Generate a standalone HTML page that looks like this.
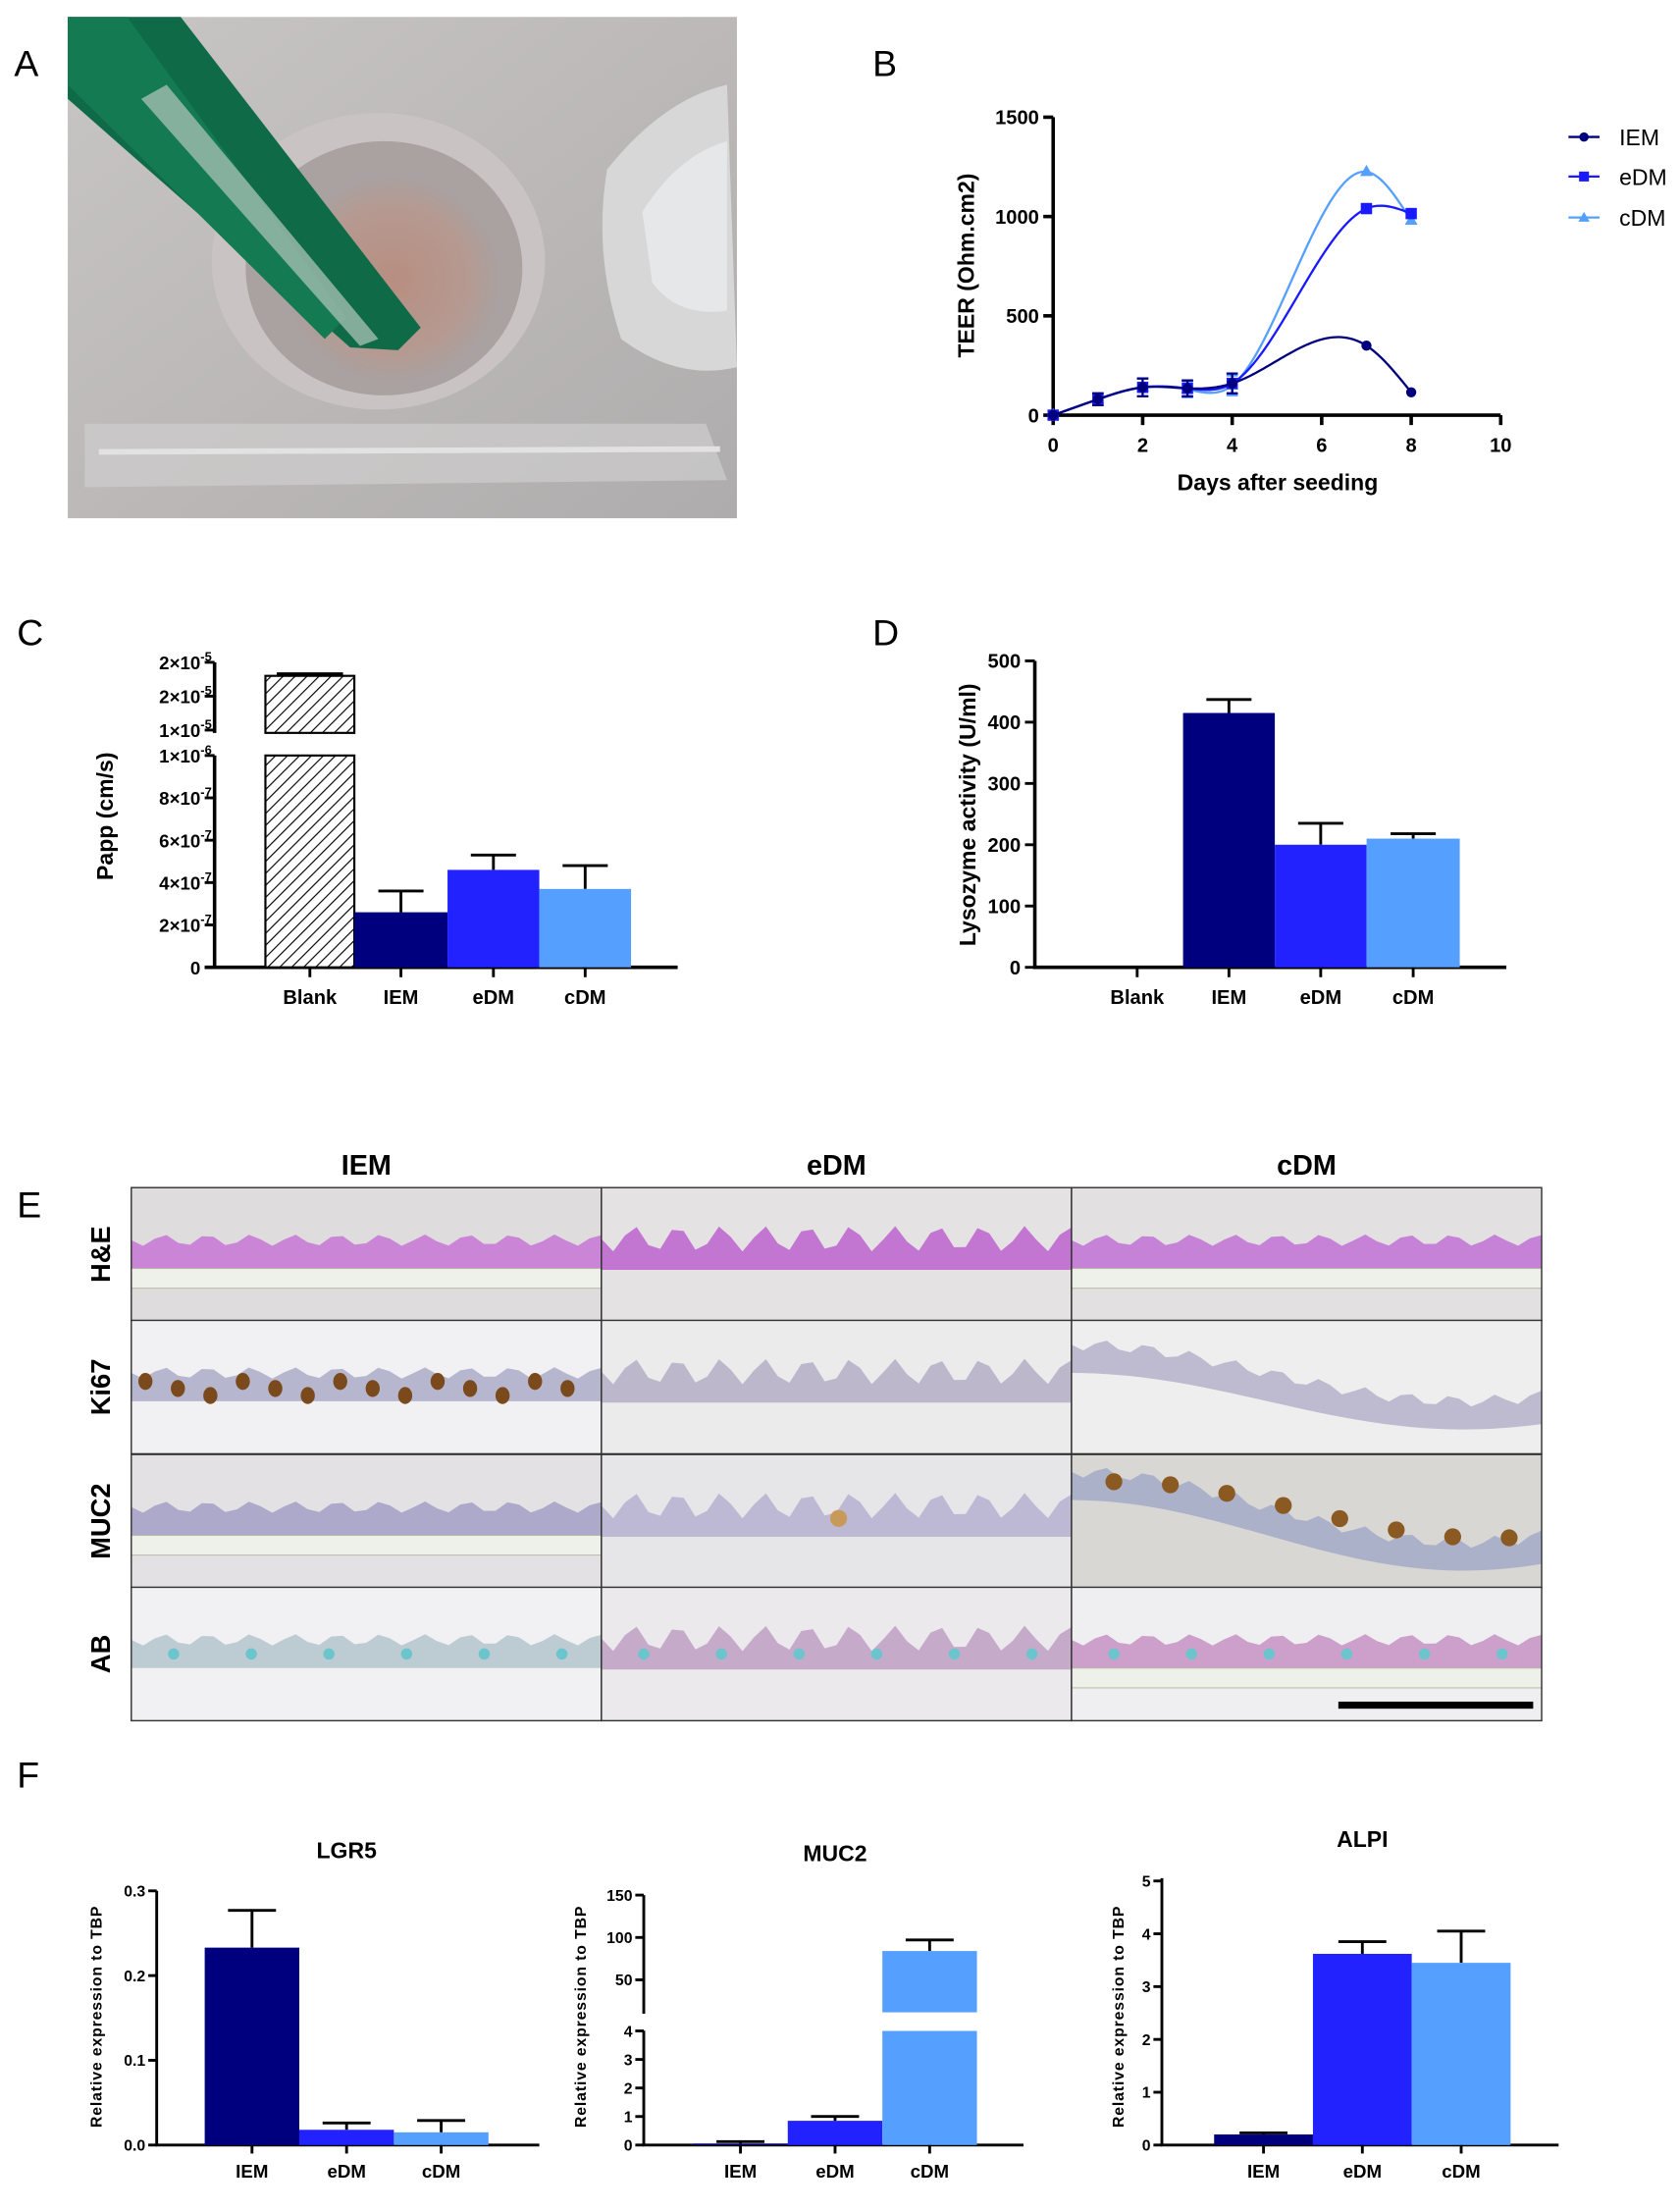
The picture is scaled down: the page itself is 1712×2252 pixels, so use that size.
<!DOCTYPE html>
<html><head><meta charset="utf-8"><style>
html,body{margin:0;padding:0;background:#fff;}
svg{display:block;font-family:"Liberation Sans",sans-serif;}
</style></head><body>
<svg id="fig" width="1712" height="2252" viewBox="0 0 1190 1565" preserveAspectRatio="none" xmlns="http://www.w3.org/2000/svg">
<defs>
<linearGradient id="photoBg" x1="0" y1="0" x2="1" y2="1"><stop offset="0" stop-color="#c8c6c5"/><stop offset="0.6" stop-color="#b9b6b5"/><stop offset="1" stop-color="#aeacad"/></linearGradient>
<radialGradient id="well" cx="0.5" cy="0.5" r="0.5"><stop offset="0" stop-color="#b88e80"/><stop offset="0.7" stop-color="#b59a92"/><stop offset="1" stop-color="#a8a2a2"/></radialGradient>
<pattern id="hatch" width="6" height="6" patternUnits="userSpaceOnUse" patternTransform="rotate(45)"><rect width="6" height="6" fill="#fff"/><line x1="0" y1="0" x2="0" y2="6" stroke="#000" stroke-width="1.6"/></pattern>
</defs>
<g font-size="26" fill="#000">
<text x="10" y="54">A</text>
<text x="618" y="54">B</text>
<text x="12" y="457">C</text>
<text x="618" y="457">D</text>
<text x="12" y="862">E</text>
<text x="12" y="1266">F</text>
</g>
<g>
<rect x="48" y="12" width="474" height="355" fill="url(#photoBg)"/>
<path d="M60 300 L500 300 L515 340 L60 345 Z" fill="#cfcdcd" opacity="0.7"/>
<path d="M70 320 L510 318" stroke="#e2e2e2" stroke-width="4"/>
<ellipse cx="268" cy="185" rx="118" ry="105" fill="#c9c4c3"/>
<ellipse cx="272" cy="190" rx="98" ry="90" fill="#a9a2a1"/>
<ellipse cx="278" cy="198" rx="78" ry="75" fill="url(#well)"/>
<path d="M430 120 Q470 70 515 60 L522 260 Q480 270 440 240 Q420 180 430 120 Z" fill="#d7d7d8"/>
<path d="M455 150 Q480 110 515 100 L515 220 Q480 225 462 200 Z" fill="#e6e7e8"/>
<path d="M48 12 L128 12 L298 232 L282 248 L248 246 L48 70 Z" fill="#0f6b47"/>
<path d="M48 12 L90 12 L245 225 L230 240 L48 60 Z" fill="#137a52"/>
<path d="M100 70 L118 60 L268 240 L255 245 Z" fill="#b6c8bf" opacity="0.7"/>
</g>
<g id="chartB"></g>
<g id="chartC"></g>
<g id="chartD"></g>
<g id="panelE"></g>
<g id="chartF1"></g>
<g id="chartF2"></g>
<g id="chartF3"></g>
</svg>
<script>
// ---------- data ----------
var teerDays = [0, 1, 2, 3, 4, 7, 8];
var teerIEM = [0, 80, 140, 135, 160, 350, 115];
var teerEDM = [0, 80, 140, 135, 160, 1040, 1015];
var teerCDM = [0, 80, 140, 130, 150, 1225, 980];
var teerErr = [10, 30, 45, 40, 50, 15, 25];
var teerXTicks = [0, 2, 4, 6, 8, 10];
var teerYTicks = [0, 500, 1000, 1500];
var barCats = ["Blank", "IEM", "eDM", "cDM"];
var pappVals = [1.8e-5, 2.6e-7, 4.6e-7, 3.7e-7];
var pappErrs = [0.03e-5, 1.0e-7, 0.7e-7, 1.1e-7];
var pappLowTicks = [0, 2e-7, 4e-7, 6e-7, 8e-7, 1e-6];
var pappLowLabels = ["0", "2×10", "4×10", "6×10", "8×10", "1×10"];
var pappLowExp = ["", "-7", "-7", "-7", "-7", "-6"];
var pappHighTicks = [1e-5, 1.5e-5, 2e-5];
var pappHighLabels = ["1×10", "2×10", "2×10"];
var lysoVals = [0, 415, 200, 210];
var lysoErrs = [0, 22, 35, 8];
var lysoTicks = [0, 100, 200, 300, 400, 500];
var geneCats = ["IEM", "eDM", "cDM"];
var lgr5Vals = [0.233, 0.018, 0.015];
var lgr5Errs = [0.044, 0.008, 0.014];
var lgr5Ticks = [0, 0.1, 0.2, 0.3];
var lgr5Labels = ["0.0", "0.1", "0.2", "0.3"];
var muc2Vals = [0.05, 0.85, 84];
var muc2Errs = [0.07, 0.15, 13];
var muc2LowTicks = [0, 1, 2, 3, 4];
var muc2HighTicks = [50, 100, 150];
var alpiVals = [0.2, 3.62, 3.45];
var alpiErrs = [0.03, 0.23, 0.6];
var alpiTicks = [0, 1, 2, 3, 4, 5];
var cols = ["#00007f", "#2222ff", "#55a0ff"];

var NS = "http://www.w3.org/2000/svg";
function mk(tag, attrs, parent) {
  var e = document.createElementNS(NS, tag);
  for (var k in attrs) e.setAttribute(k, attrs[k]);
  parent.appendChild(e);
  return e;
}
function txt(parent, x, y, s, size, anchor, weight, extra) {
  var t = mk("text", {x: x, y: y, "font-size": size, "text-anchor": anchor || "middle", "font-weight": weight || "bold", fill: "#000"}, parent);
  t.textContent = s;
  if (extra) for (var k in extra) t.setAttribute(k, extra[k]);
  return t;
}
function naturalSpline(xs, ys) {
  var n = xs.length, h = [], al = [0], l = [1], mu = [0], z = [0], c = new Array(n).fill(0), b = [], d = [];
  for (var i = 0; i < n - 1; i++) h.push(xs[i + 1] - xs[i]);
  for (i = 1; i < n - 1; i++) al[i] = 3 / h[i] * (ys[i + 1] - ys[i]) - 3 / h[i - 1] * (ys[i] - ys[i - 1]);
  for (i = 1; i < n - 1; i++) {
    l[i] = 2 * (xs[i + 1] - xs[i - 1]) - h[i - 1] * mu[i - 1];
    mu[i] = h[i] / l[i];
    z[i] = (al[i] - h[i - 1] * z[i - 1]) / l[i];
  }
  for (i = n - 2; i >= 0; i--) {
    c[i] = (i === n - 2 ? 0 : z[i] - mu[i] * c[i + 1]);
    if (i > 0 && i < n - 1) c[i] = z[i] - mu[i] * c[i + 1];
    b[i] = (ys[i + 1] - ys[i]) / h[i] - h[i] * (c[i + 1] + 2 * c[i]) / 3;
    d[i] = (c[i + 1] - c[i]) / (3 * h[i]);
  }
  return function (x) {
    var k = 0;
    while (k < n - 2 && x > xs[k + 1]) k++;
    var dx = x - xs[k];
    return ys[k] + b[k] * dx + c[k] * dx * dx + d[k] * dx * dx * dx;
  };
}

// ---------- Panel B ----------
(function () {
  var g = document.getElementById("chartB");
  function X(d) { return 746 + d * 31.7; }
  function Y(v) { return 294 - v * (211 / 1500); }
  var ax = mk("path", {d: "M746 83 L746 294 L1063 294", fill: "none", stroke: "#000", "stroke-width": 2.5}, g);
   
  teerXTicks.forEach(function (d) {
    var l = mk("line", {x1: X(d), x2: X(d), y1: 294, y2: 301, stroke: "#000", "stroke-width": 2.5}, g);
     
    var t = txt(g, X(d), 320, d, 14);
     
  });
  teerYTicks.forEach(function (v) {
    var l = mk("line", {x1: 739, x2: 746, y1: Y(v), y2: Y(v), stroke: "#000", "stroke-width": 2.5}, g);
     
    var t = txt(g, 736, Y(v) + 5, v, 14, "end");
     
  });
  var xt = txt(g, 905, 347, "Days after seeding", 16);
   
  var yt = txt(g, 690, 188, "TEER (Ohm.cm2)", 16, "middle", "bold", {transform: "rotate(-90 690 188)"});
   
  function curve(vals) {
    var f = naturalSpline(teerDays, vals), s = "";
    for (var k = 0; k <= 160; k++) {
      var d = k * 8 / 160;
      s += (k ? " L" : "M") + X(d).toFixed(2) + " " + Y(f(d)).toFixed(2);
    }
    return s;
  }
  var series = [[teerCDM, cols[2], "tri", "cdm"], [teerEDM, "#1a1aff", "sq", "edm"], [teerIEM, cols[0], "dot", "iem"]];
  series.forEach(function (s) {
    var ln = mk("path", {d: curve(s[0]), fill: "none", stroke: s[1], "stroke-width": 1.6}, g);
     
    teerDays.forEach(function (d, i) {
      var x = X(d), y = Y(s[0][i]), e = teerErr[i] * 211 / 1500;
      if (i > 0 && i < 5) {
        var eb = mk("path", {d: "M" + (x - 4) + " " + (y - e) + " H" + (x + 4) + " M" + x + " " + (y - e) + " V" + (y + e) + " M" + (x - 4) + " " + (y + e) + " H" + (x + 4), stroke: s[1], "stroke-width": 1.5, fill: "none"}, g);
         
      }
      var m;
      if (s[2] === "dot") m = mk("circle", {cx: x, cy: y, r: 3.6, fill: s[1]}, g);
      else if (s[2] === "sq") m = mk("rect", {x: x - 4, y: y - 4, width: 8, height: 8, fill: s[1]}, g);
      else m = mk("path", {d: "M" + x + " " + (y - 5) + " L" + (x + 4.5) + " " + (y + 3) + " L" + (x - 4.5) + " " + (y + 3) + " Z", fill: s[1]}, g);
       
    });
  });
  var leg = [["IEM", cols[0], "dot", 97], ["eDM", "#1a1aff", "sq", 125], ["cDM", cols[2], "tri", 154]];
  leg.forEach(function (l) {
    var gg = mk("g", {}, g);
     
    mk("line", {x1: 1111, x2: 1133, y1: l[3], y2: l[3], stroke: l[1], "stroke-width": 1.6}, gg);
    if (l[2] === "dot") mk("circle", {cx: 1122, cy: l[3], r: 3.3, fill: l[1]}, gg);
    else if (l[2] === "sq") mk("rect", {x: 1118.5, y: l[3] - 3.5, width: 7, height: 7, fill: l[1]}, gg);
    else mk("path", {d: "M1122 " + (l[3] - 4) + " l4 7 h-8 Z", fill: l[1]}, gg);
    txt(gg, 1147, l[3] + 6, l[0], 16, "start", "normal");
  });
})();

// ---------- Panel C ----------
(function () {
  var g = document.getElementById("chartC");
  function YL(v) { return 685 - v / 1e-6 * 150; }
  function YH(v) { return 517 - (v - 1e-5) / 1e-6 * 4.8; }
  var xs = [188, 251, 317, 382, 447];
  var ax = mk("path", {d: "M152 469 V519 M152 535 V685 M145 685 H480", fill: "none", stroke: "#000", "stroke-width": 2.5}, g);
   
  function lab(x, y, base, exp) {
    var t = txt(g, x, y, base, 13, "end");
    if (exp) { var sp = mk("tspan", {"font-size": 9, dy: -6}, t); sp.textContent = exp; }
     
  }
  pappLowTicks.forEach(function (v, i) {
    var l = mk("line", {x1: 145, x2: 152, y1: YL(v), y2: YL(v), stroke: "#000", "stroke-width": 2}, g);
     
    lab(pappLowExp[i] ? 150 : 142, YL(v) + 5, pappLowLabels[i], pappLowExp[i]);
  });
  pappHighTicks.forEach(function (v, i) {
    var l = mk("line", {x1: 145, x2: 152, y1: YH(v), y2: YH(v), stroke: "#000", "stroke-width": 2}, g);
     
    lab(150, YH(v) + 5, pappHighLabels[i], "-5");
  });
  var bt = mk("rect", {x: xs[0], y: YH(pappVals[0]), width: xs[1] - xs[0], height: 519 - YH(pappVals[0]), fill: "url(#hatch)", stroke: "#000", "stroke-width": 1.5}, g);
   
  var bb = mk("rect", {x: xs[0], y: 535, width: xs[1] - xs[0], height: 150, fill: "url(#hatch)", stroke: "#000", "stroke-width": 1.5}, g);
   
  var eb0 = mk("path", {d: "M" + (xs[0] + 8) + " " + YH(pappVals[0] + pappErrs[0]) + " H" + (xs[1] - 8), stroke: "#000", "stroke-width": 2}, g);
   
  for (var i = 1; i < 4; i++) {
    var y = YL(pappVals[i]), cx = (xs[i] + xs[i + 1]) / 2, ye = YL(pappVals[i] + pappErrs[i]);
    var eb = mk("path", {d: "M" + cx + " " + y + " V" + ye + " M" + (cx - 16) + " " + ye + " H" + (cx + 16), stroke: "#000", "stroke-width": 2}, g);
     
    var b = mk("rect", {x: xs[i], y: y, width: xs[i + 1] - xs[i], height: 685 - y, fill: cols[i - 1]}, g);
     
  }
  barCats.forEach(function (c, i) {
    var cx = (xs[i] + xs[i + 1]) / 2;
    mk("line", {x1: cx, x2: cx, y1: 685, y2: 692, stroke: "#000", "stroke-width": 2}, g);
    var t = txt(g, cx, 711, c, 14);
     
  });
  var yt = txt(g, 80, 578, "Papp  (cm/s)", 16, "middle", "bold", {transform: "rotate(-90 80 578)"});
   
})();

// ---------- Panel D ----------
(function () {
  var g = document.getElementById("chartD");
  function Y(v) { return 685 - v * (217 / 500); }
  var xs = [773, 838, 903, 968, 1034];
  var ax = mk("path", {d: "M733 468 V685 H1067", fill: "none", stroke: "#000", "stroke-width": 2.5}, g);
   
  lysoTicks.forEach(function (v) {
    var l = mk("line", {x1: 726, x2: 733, y1: Y(v), y2: Y(v), stroke: "#000", "stroke-width": 2}, g);
     
    var t = txt(g, 723, Y(v) + 5, v, 14, "end");
     
  });
  for (var i = 1; i < 4; i++) {
    var y = Y(lysoVals[i]), cx = (xs[i] + xs[i + 1]) / 2, ye = Y(lysoVals[i] + lysoErrs[i]);
    var eb = mk("path", {d: "M" + cx + " " + y + " V" + ye + " M" + (cx - 16) + " " + ye + " H" + (cx + 16), stroke: "#000", "stroke-width": 2}, g);
     
    var b = mk("rect", {x: xs[i], y: y, width: xs[i + 1] - xs[i], height: 685 - y, fill: cols[i - 1]}, g);
     
  }
  barCats.forEach(function (c, i) {
    var cx = (xs[i] + xs[i + 1]) / 2;
    mk("line", {x1: cx, x2: cx, y1: 685, y2: 692, stroke: "#000", "stroke-width": 2}, g);
    var t = txt(g, cx, 711, c, 14);
     
  });
  var yt = txt(g, 691, 577, "Lysozyme activity  (U/ml)", 16, "middle", "bold", {transform: "rotate(-90 691 577)"});
   
})();

// ---------- Panel E ----------
(function () {
  var g = document.getElementById("panelE");
  var cx0 = [93, 426, 759], cw = 333, ry0 = [841, 935, 1030, 1124], rh = 94.5;
  var heads = ["IEM", "eDM", "cDM"], rows = ["H&E", "Ki67", "MUC2", "AB"];
  heads.forEach(function (h, i) {
    var t = txt(g, cx0[i] + cw / 2, 832, h, 20);
     
  });
  rows.forEach(function (r, j) {
    var y = ry0[j] + rh / 2;
    var t = txt(g, 78, y, r, 19, "middle", "bold", {transform: "rotate(-90 78 " + y + ")"});
     
  });
  var bgs = [["#dedcdc", "#e4e2e2", "#e2e0e0"], ["#f1f1f3", "#ecebec", "#eeeeef"], ["#e3e1e4", "#e6e5e8", "#d8d7d4"], ["#f1f1f3", "#ebe9ec", "#efeff1"]];
  var tissue = [["#c880d6", "#c070d0", "#c47cd6"], ["#b2b2cc", "#b9b4c8", "#bab6cc"], ["#a9a5c8", "#bab6d4", "#a9afc8"], ["#b9c9d0", "#c4a6c8", "#c99bc8"]];
  var uid = 0;
  for (var j = 0; j < 4; j++) for (var i = 0; i < 3; i++) {
    var x = cx0[i], y = ry0[j], cid = "clip" + (uid++);
    var cp = mk("clipPath", {id: cid}, g);
    mk("rect", {x: x, y: y, width: cw, height: rh}, cp);
    var cell = mk("g", {"clip-path": "url(#" + cid + ")"}, g);
     
    mk("rect", {x: x, y: y, width: cw, height: rh, fill: bgs[j][i]}, cell);
    var amp = (i === 1) ? 9 : 4, mid = y + rh * 0.5, thick = (i === 1) ? 22 : 20;
    var curve = (j === 1 && i === 2) ? 20 : (j === 2 && i === 2 ? 25 : 0);
    var top = "", bot = "";
    for (var k = 0; k <= 40; k++) {
      var px = x + k * cw / 40;
      var bend = curve ? curve * Math.cos((k / 40) * Math.PI * 1.2) : 0;
      var ty = mid - thick / 2 + amp * Math.sin(k * 1.7) - bend;
      var by = mid + thick / 2 - bend;
      top += (k ? " L" : "M") + px + " " + ty;
      bot = " L" + px + " " + by + bot;
    }
    mk("path", {d: top + bot + " Z", fill: tissue[j][i], opacity: 0.95}, cell);
    if ((j === 0 || (j === 2 && i === 0)) && i !== 1 || (j === 3 && i === 2)) {
      mk("rect", {x: x, y: mid + thick / 2, width: cw, height: 14, fill: "#eef0ea", stroke: "#b8b8a8", "stroke-width": 0.7}, cell);
    }
    if (j === 1 && i === 0) for (var d = 0; d < 14; d++) mk("ellipse", {cx: x + 10 + d * 23, cy: mid + (d % 3) * 5 - 4, rx: 5, ry: 6, fill: "#7a4a1c"}, cell);
    if (j === 2 && i === 2) for (var d2 = 0; d2 < 8; d2++) mk("circle", {cx: x + 30 + d2 * 40, cy: mid - 8 - 20 * Math.cos((d2 / 8) * Math.PI * 1.2), r: 6, fill: "#8a5a22"}, cell);
    if (j === 2 && i === 1) mk("circle", {cx: x + 168, cy: mid - 2, r: 6, fill: "#c89a5a"}, cell);
    if (j === 3) for (var d3 = 0; d3 < 6; d3++) mk("circle", {cx: x + 30 + d3 * 55, cy: mid, r: 4, fill: "#6cc4cc"}, cell);
    mk("rect", {x: x, y: y, width: cw, height: rh, fill: "none", stroke: "#333", "stroke-width": 1}, g);
  }
  var sb = mk("rect", {x: 948, y: 1205, width: 138, height: 5, fill: "#000"}, g);
   
})();

// ---------- Panel F ----------
function geneChart(id, axX, x0, bw, xEnd, title, titleY, Yfn, vals, errs, ticks, labels, axisTop, ylx) {
  var g = document.getElementById(id);
  var ax = mk("path", {d: "M" + axX + " " + axisTop + " V1519 H" + xEnd, fill: "none", stroke: "#000", "stroke-width": 2}, g);
   
  var tt = txt(g, x0 + bw * 1.5, titleY, title, 16);
   
  ticks.forEach(function (v, i) {
    var l = mk("line", {x1: axX - 6, x2: axX, y1: Yfn(v), y2: Yfn(v), stroke: "#000", "stroke-width": 2}, g);
     
    var t = txt(g, axX - 8, Yfn(v) + 4, labels[i], 11, "end");
     
  });
  geneCats.forEach(function (c, i) {
    var bx = x0 + i * bw, cx = bx + bw / 2, y = Yfn(vals[i]), ye = Yfn(vals[i] + errs[i]);
    var eb = mk("path", {d: "M" + cx + " " + y + " V" + ye + " M" + (cx - 17) + " " + ye + " H" + (cx + 17), stroke: "#000", "stroke-width": 2}, g);
     
    var b = mk("rect", {x: bx, y: y, width: bw, height: 1519 - y, fill: cols[i]}, g);
     
    mk("line", {x1: cx, x2: cx, y1: 1519, y2: 1525, stroke: "#000", "stroke-width": 2}, g);
    var t = txt(g, cx, 1542, c, 13);
     
  });
  var ym = 1428;
  var yt = txt(g, ylx, ym, "Relative expression to TBP", 11, "middle", "bold", {transform: "rotate(-90 " + ylx + " " + ym + ")", "letter-spacing": "0.6"});
   
  return g;
}
geneChart("chartF1", 111, 145, 67, 382, "LGR5", 1316, function (v) { return 1519 - v * 600; }, lgr5Vals, lgr5Errs, lgr5Ticks, lgr5Labels, 1339, 72);
geneChart("chartF3", 823, 860, 70, 1104, "ALPI", 1308, function (v) { return 1519 - v * 37.4; }, alpiVals, alpiErrs, alpiTicks, alpiTicks, 1330, 796);
(function () {
  var g = document.getElementById("chartF2");
  var axX = 456, x0 = 491, bw = 67;
  function YL(v) { return 1519 - v * 20.2; }
  function YH(v) { return 1432 - v * 0.6; }
  var ax = mk("path", {d: "M" + axX + " 1342 V1426 M" + axX + " 1438 V1519 H725", fill: "none", stroke: "#000", "stroke-width": 2}, g);
   
  var tt = txt(g, x0 + bw * 1.5, 1318, "MUC2", 16);
   
  muc2LowTicks.forEach(function (v) {
    var l = mk("line", {x1: axX - 6, x2: axX, y1: YL(v), y2: YL(v), stroke: "#000", "stroke-width": 2}, g);
     
    var t = txt(g, axX - 8, YL(v) + 4, v, 11, "end");
     
  });
  muc2HighTicks.forEach(function (v) {
    var l = mk("line", {x1: axX - 6, x2: axX, y1: YH(v), y2: YH(v), stroke: "#000", "stroke-width": 2}, g);
     
    var t = txt(g, axX - 8, YH(v) + 4, v, 11, "end");
     
  });
  geneCats.forEach(function (c, i) {
    var bx = x0 + i * bw, cx = bx + bw / 2;
    if (muc2Vals[i] > 4) {
      var y = YH(muc2Vals[i]), ye = YH(muc2Vals[i] + muc2Errs[i]);
      var eb = mk("path", {d: "M" + cx + " " + y + " V" + ye + " M" + (cx - 17) + " " + ye + " H" + (cx + 17), stroke: "#000", "stroke-width": 2}, g);
       
      var b1 = mk("rect", {x: bx, y: y, width: bw, height: 1425 - y, fill: cols[i]}, g);
       
      var b2 = mk("rect", {x: bx, y: YL(4), width: bw, height: 1519 - YL(4), fill: cols[i]}, g);
       
    } else {
      var y2 = YL(muc2Vals[i]), ye2 = YL(muc2Vals[i] + muc2Errs[i]);
      var eb2 = mk("path", {d: "M" + cx + " " + y2 + " V" + ye2 + " M" + (cx - 17) + " " + ye2 + " H" + (cx + 17), stroke: "#000", "stroke-width": 2}, g);
       
      var b = mk("rect", {x: bx, y: y2, width: bw, height: 1519 - y2, fill: cols[i]}, g);
       
    }
    mk("line", {x1: cx, x2: cx, y1: 1519, y2: 1525, stroke: "#000", "stroke-width": 2}, g);
    var t = txt(g, cx, 1542, c, 13);
     
  });
  var yt = txt(g, 415, 1428, "Relative expression to TBP", 11, "middle", "bold", {transform: "rotate(-90 415 1428)", "letter-spacing": "0.6"});
   
})();
</script>
</body></html>
